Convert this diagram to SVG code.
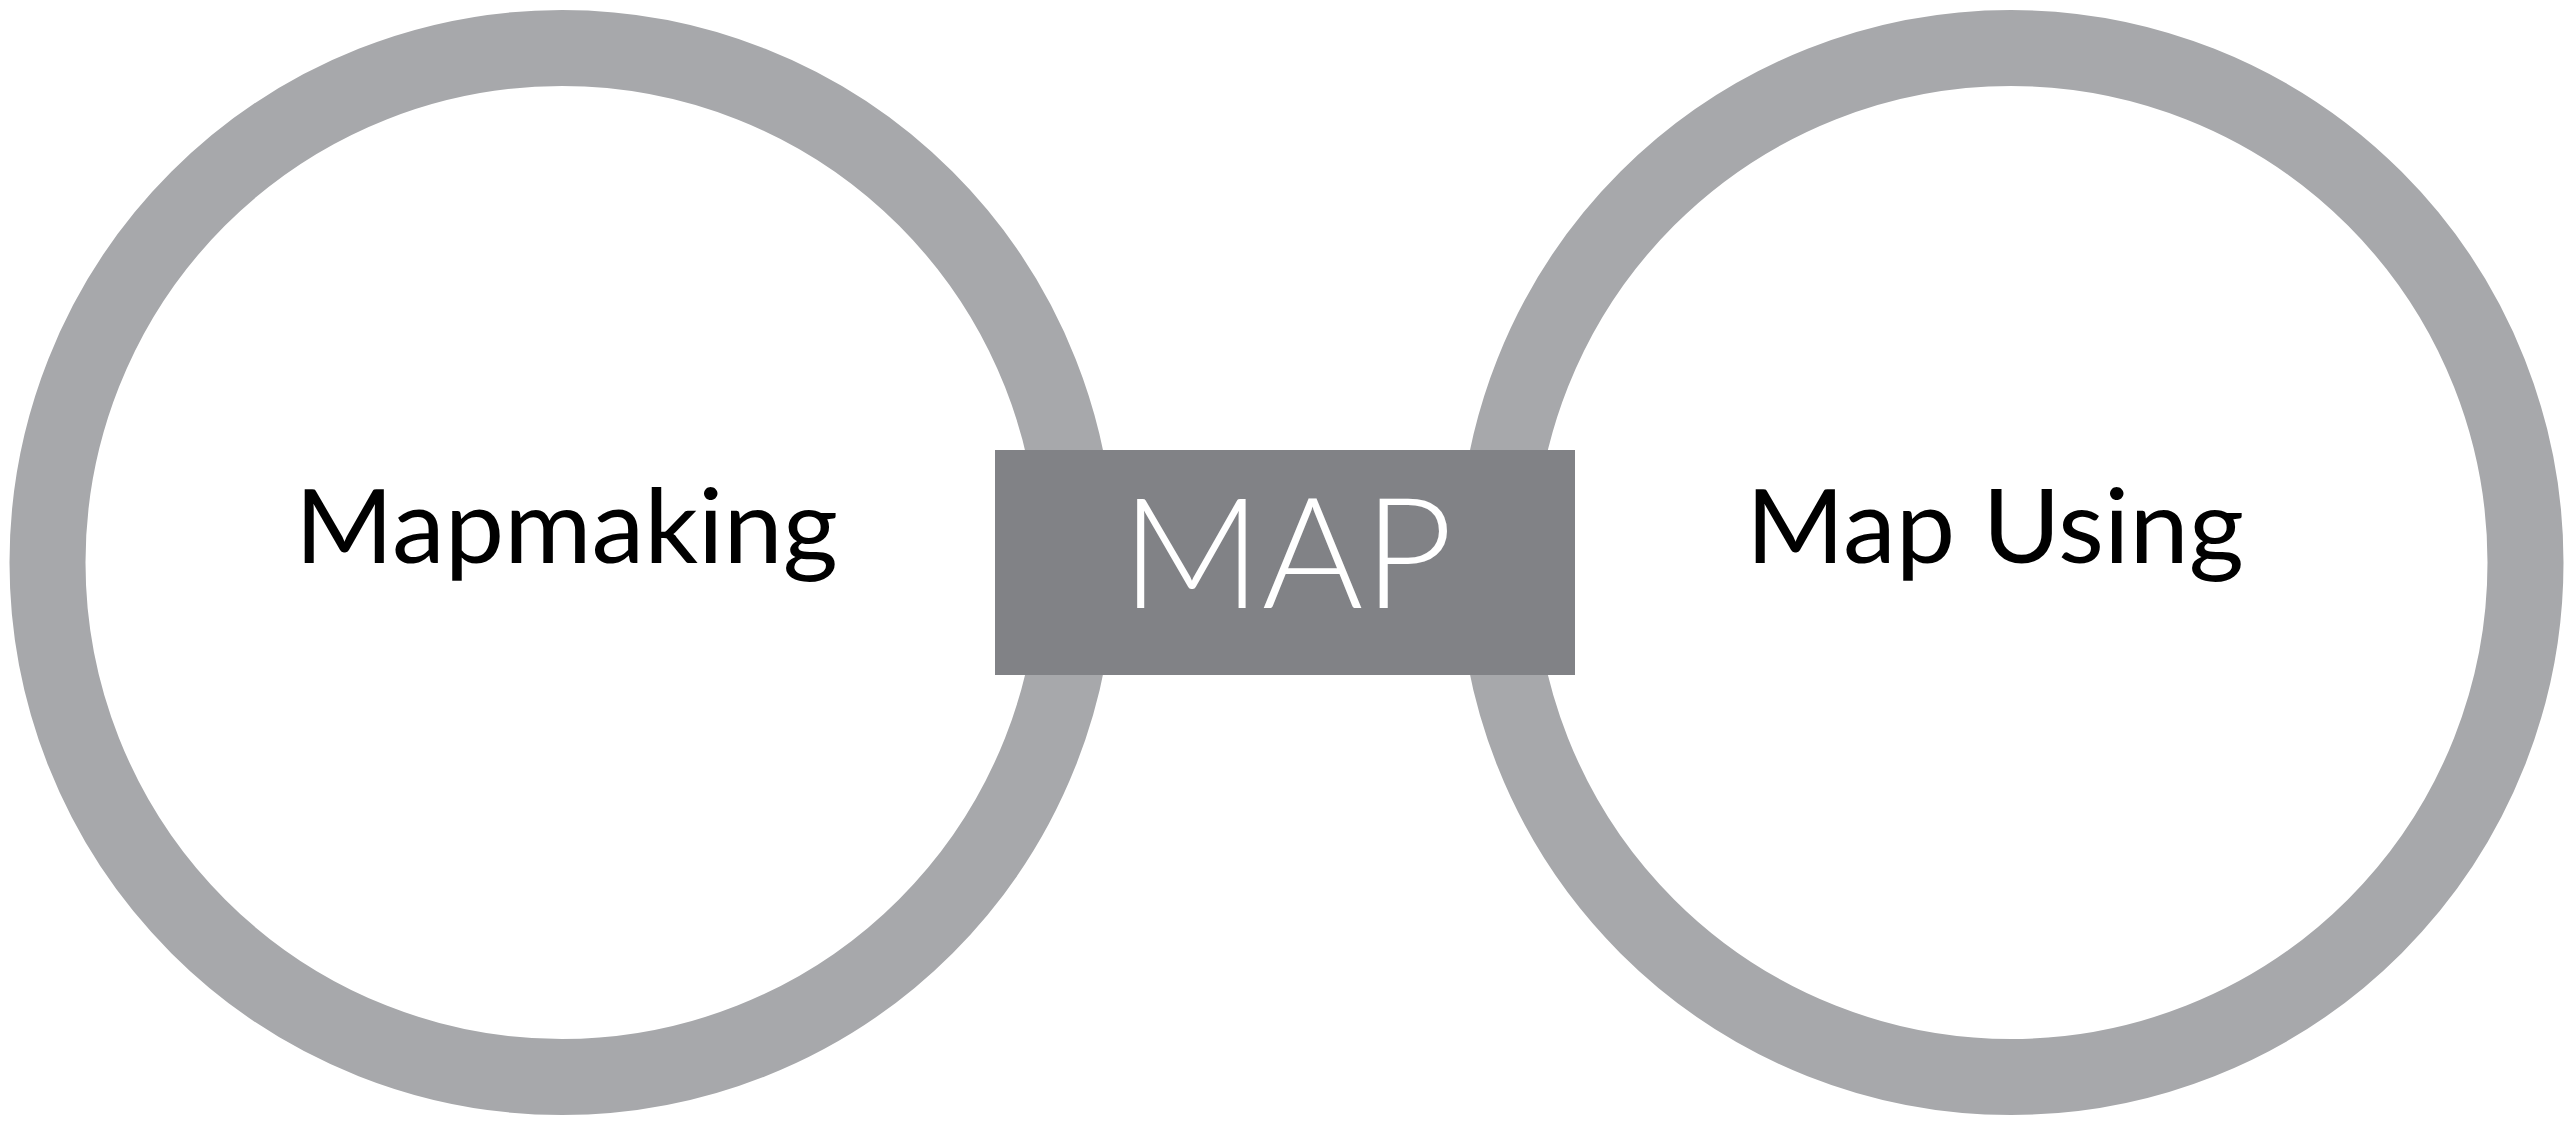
<svg xmlns="http://www.w3.org/2000/svg" width="2570" height="1126" viewBox="0 0 2570 1126">
  <style>
    .ring { fill: #ffffff; stroke: #a7a8ab; stroke-width: 76; }
    .label { font-family: Lato, "Open Sans", "Liberation Sans", sans-serif; font-weight: 400; font-size: 103px; fill: #000000; text-anchor: middle; }
    .map { font-family: Lato, "Open Sans", "Liberation Sans", sans-serif; font-weight: 300; font-size: 155px; fill: #ffffff; text-anchor: middle; }
  </style>
  <rect x="0" y="0" width="2570" height="1126" fill="#ffffff"/>
  <g id="mapmaking">
    <circle class="ring" cx="562" cy="562.5" r="514.5"/>
    <text class="label" x="566.5" y="563" textLength="543" lengthAdjust="spacingAndGlyphs">Mapmaking</text>
  </g>
  <g id="map-using">
    <circle class="ring" cx="2011" cy="562.5" r="514.5"/>
    <text class="label" x="1995" y="563" textLength="498" lengthAdjust="spacingAndGlyphs">Map Using</text>
  </g>
  <g id="connectors"></g>
  <g id="map">
    <rect x="995" y="450" width="580" height="225" fill="#818286"/>
    <text class="map" x="1287" y="608" textLength="332" lengthAdjust="spacingAndGlyphs">MAP</text>
  </g>
</svg>
